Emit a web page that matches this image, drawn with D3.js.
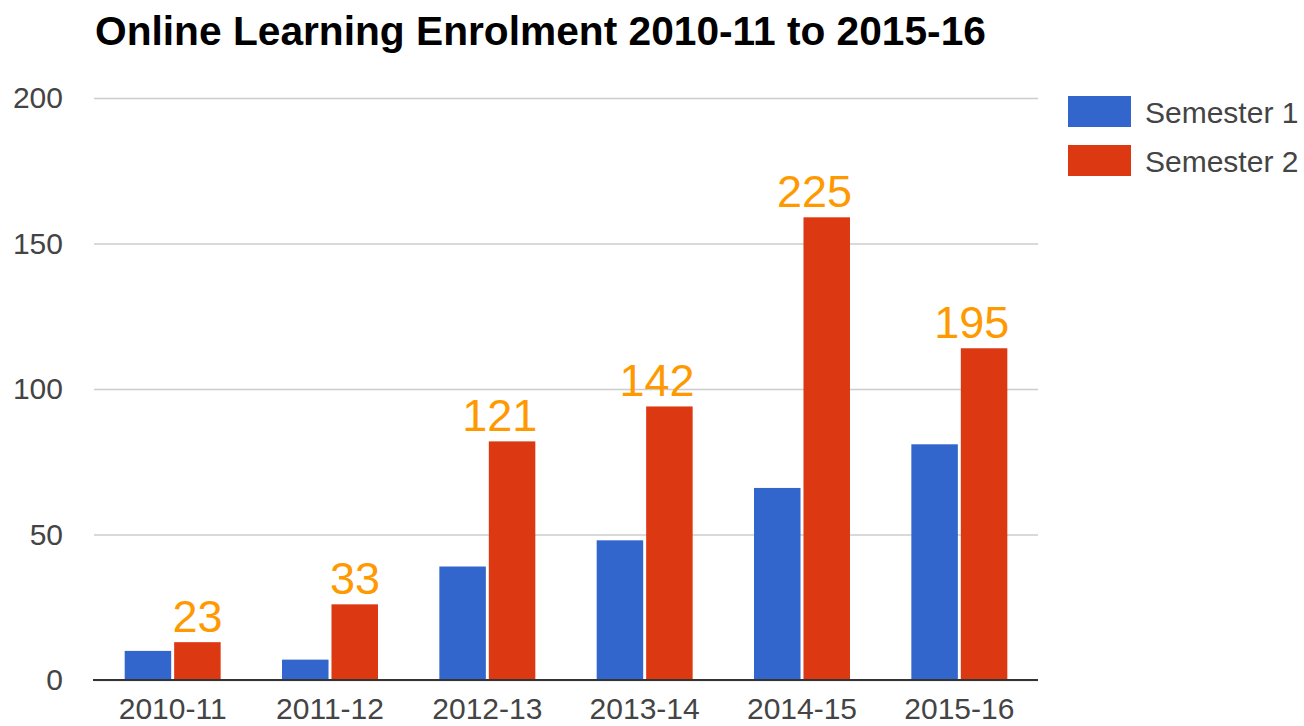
<!DOCTYPE html>
<html>
<head>
<meta charset="utf-8">
<script src="https://cdn.jsdelivr.net/npm/d3@7"></script>
<style>
  html, body { margin: 0; padding: 0; background: #fff; }
  svg { display: block; }
</style>
</head>
<body>
<svg id="chart" width="1304" height="726"></svg>
<script>
const categories = ["2010-11", "2011-12", "2012-13", "2013-14", "2014-15", "2015-16"];
const seriesNames = ["Semester 1", "Semester 2"];
const semester1 = [10, 7, 39, 48, 66, 81];
const semester2 = [13, 26, 82, 94, 159, 114];
const totalLabels = ["23", "33", "121", "142", "225", "195"];
const yTicks = [0, 50, 100, 150, 200];
const titleText = "Online Learning Enrolment 2010-11 to 2015-16";

const colors = ["#3366cc", "#dc3912"];
const font = "'Liberation Sans', Arial, Helvetica, sans-serif";

const svg = d3.select("#chart");
const W = 1304, H = 726;
svg.append("rect").attr("width", W).attr("height", H).attr("fill", "#fff");

const plot = { left: 94, right: 1038, top: 98, bottom: 680 };

const x0 = d3.scaleBand().domain(categories)
  .range([plot.left, plot.right]).paddingInner(0.39).paddingOuter(0.195);
const x1 = d3.scaleBand().domain(seriesNames)
  .range([0, x0.bandwidth()]).paddingInner(0.06).paddingOuter(0);
const y = d3.scaleLinear().domain([0, 200]).range([plot.bottom, plot.top]);

// Title
svg.append("text")
  .attr("x", 95).attr("y", 45)
  .attr("font-family", font).attr("font-weight", "bold")
  .attr("font-size", 40.7).attr("fill", "#000")
  .text(titleText);

// Gridlines + y axis labels
const yAxis = d3.axisLeft(y).tickValues(yTicks)
  .tickSize(-(plot.right - plot.left)).tickPadding(31);
const gy = svg.append("g").attr("transform", `translate(${plot.left},0)`).call(yAxis);
gy.select(".domain").remove();
gy.selectAll(".tick line").attr("stroke", "#cccccc").attr("stroke-width", 1.5);
gy.selectAll(".tick text")
  .attr("font-family", font).attr("font-size", 30).attr("fill", "#444");

// Bars
const data = categories.map((c, i) => ({ cat: c, vals: [semester1[i], semester2[i]], label: totalLabels[i] }));
const groups = svg.append("g").selectAll("g").data(data).join("g")
  .attr("transform", d => `translate(${x0(d.cat)},0)`);
groups.selectAll("rect").data(d => d.vals.map((v, j) => ({ name: seriesNames[j], v, j })))
  .join("rect")
  .attr("x", d => x1(d.name))
  .attr("y", d => y(d.v))
  .attr("width", x1.bandwidth())
  .attr("height", d => y(0) - y(d.v))
  .attr("fill", d => colors[d.j]);

// Total labels above Semester 2 bars (right-aligned to bar edge)
groups.append("text")
  .attr("x", x1(seriesNames[1]) + x1.bandwidth() + 2)
  .attr("y", d => y(d.vals[1]) - 10)
  .attr("text-anchor", "end")
  .attr("font-family", font).attr("font-size", 45).attr("fill", "#ff9900")
  .text(d => d.label);

// Baseline
svg.append("line")
  .attr("x1", plot.left - 1).attr("x2", plot.right)
  .attr("y1", y(0)).attr("y2", y(0))
  .attr("stroke", "#333").attr("stroke-width", 2);

// X axis labels
const xAxis = d3.axisBottom(x0).tickSize(0).tickPadding(18);
const gx = svg.append("g").attr("transform", `translate(0,${plot.bottom})`).call(xAxis);
gx.select(".domain").remove();
gx.selectAll(".tick text")
  .attr("font-family", font).attr("font-size", 30).attr("fill", "#444");

// Legend
const legend = svg.append("g").selectAll("g").data(seriesNames).join("g")
  .attr("transform", (d, i) => `translate(1068,${96 + i * 49})`);
legend.append("rect").attr("width", 63).attr("height", 31)
  .attr("fill", (d, i) => colors[i]);
legend.append("text")
  .attr("x", 77).attr("y", 16).attr("dy", "0.35em")
  .attr("font-family", font).attr("font-size", 30).attr("fill", "#444")
  .text(d => d);
</script>
</body>
</html>
